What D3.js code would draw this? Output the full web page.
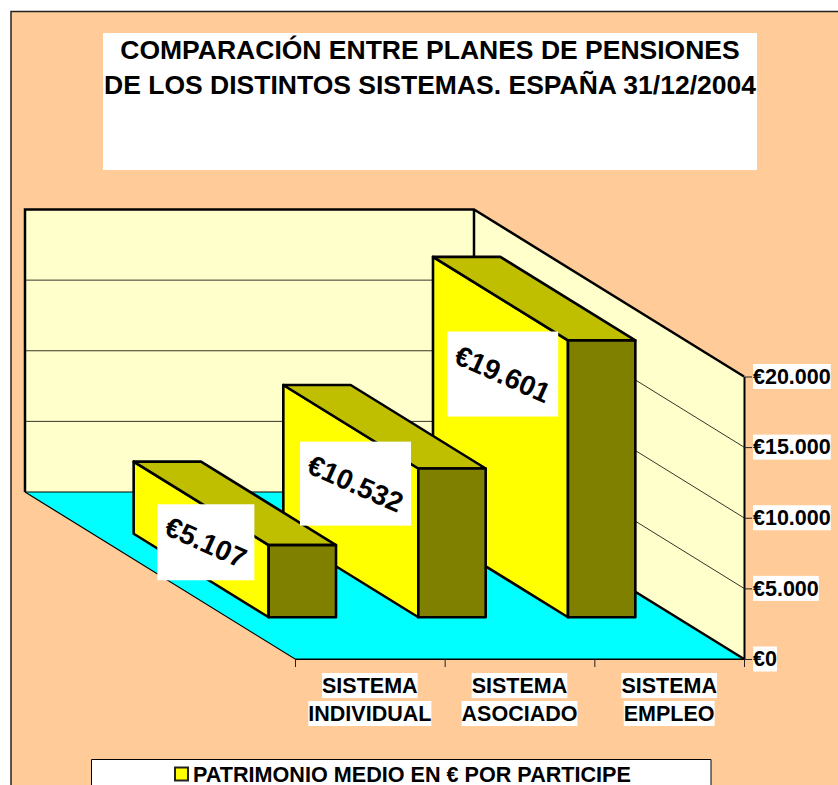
<!DOCTYPE html>
<html lang="es">
<head>
  <meta charset="UTF-8">
  <title>Comparación entre planes de pensiones</title>
  <script src="https://d3js.org/d3.v7.min.js"></script>
  <style>
    html, body { margin: 0; padding: 0; background: #fff; overflow: hidden; }
    svg { display: block; }
    text { font-family: "Liberation Sans", Arial, sans-serif; font-weight: bold; fill: #000; }
  </style>
</head>
<body>
  <svg id="chart" width="838" height="785"></svg>
  <script>
    // data
    const categories = [["SISTEMA", "INDIVIDUAL"], ["SISTEMA", "ASOCIADO"], ["SISTEMA", "EMPLEO"]];
    const values = [5107, 10532, 19601];
    const yTicks = [0, 5000, 10000, 15000, 20000];
    const titleLines = ["COMPARACIÓN ENTRE PLANES DE PENSIONES", "DE LOS DISTINTOS SISTEMAS. ESPAÑA 31/12/2004"];
    const legendLabel = "PATRIMONIO MEDIO EN € POR PARTICIPE";

    const svg = d3.select("#chart");
    const es = d3.formatLocale({ decimal: ",", thousands: ".", grouping: [3], currency: ["€", ""] });
    const fmt = es.format("$,");

    // the 3d look is just an oblique shift of the front plane
    const x = d3.scaleBand().domain(d3.range(3)).range([295, 744]).paddingInner(0.55).paddingOuter(0.275);
    const xEdge = d3.scaleLinear().domain([0, 3]).range([295, 744]);
    const y = d3.scaleLinear().domain([0, 20000]).range([659, 376.5]);
    const dx = d3.scaleLinear().domain([0, 1]).range([0, -270]);
    const dy = d3.scaleLinear().domain([0, 1]).range([0, -167]);
    const barFront = 0.25, barBack = 0.75;

    const pt = (px, v, d) => [px + dx(d), y(v) + dy(d)];
    const poly = d3.line();
    const face = (pts, fill, sw) => svg.append("path")
      .attr("d", poly(pts) + "Z")
      .attr("fill", fill)
      .attr("stroke", sw ? "#000" : "none")
      .attr("stroke-width", sw)
      .attr("stroke-linejoin", "round");
    const edge = (pts, sw) => svg.append("path")
      .attr("d", poly(pts))
      .attr("fill", "none")
      .attr("stroke", "#000")
      .attr("stroke-width", sw);

    svg.append("rect").attr("width", 838).attr("height", 785).attr("fill", "#fff");
    svg.append("rect")
      .attr("x", 11).attr("y", 11).attr("width", 827).attr("height", 774)
      .attr("fill", "#FFCC99");
    svg.append("path").attr("d", "M11,785V11.5H838").attr("fill", "none").attr("stroke", "#222").attr("stroke-width", 1.5);

    // title
    svg.append("rect").attr("x", 103).attr("y", 33).attr("width", 654).attr("height", 137).attr("fill", "#fff");
    titleLines.forEach((t, i) => {
      svg.append("text").attr("x", 430).attr("y", 58.5 + i * 35)
        .attr("text-anchor", "middle").attr("font-size", 26.5).text(t);
    });

    // floor and walls
    const x0 = xEdge(0), x3 = xEdge(3), yMax = yTicks[yTicks.length - 1];
    face([pt(x0, 0, 0), pt(x3, 0, 0), pt(x3, 0, 1), pt(x0, 0, 1)], "#00FFFF", 0);
    face([pt(x0, 0, 1), pt(x3, 0, 1), pt(x3, yMax, 1), pt(x0, yMax, 1)], "#FFFFCC", 0);
    face([pt(x3, 0, 1), pt(x3, 0, 0), pt(x3, yMax, 0), pt(x3, yMax, 1)], "#FFFFCC", 0);

    // gridlines
    yTicks.slice(1, -1).forEach(t => edge([pt(x0, t, 1), pt(x3, t, 1), pt(x3, t, 0)], 0.8));

    // outlines: thin on the floor, heavier round the walls
    edge([pt(x0, 0, 1), pt(x3, 0, 1)], 1);
    edge([pt(x0, 0, 1), pt(x0, 0, 0), pt(x3, 0, 0)], 1.2);
    edge([pt(x0, 0, 1), pt(x0, yMax, 1), pt(x3, yMax, 1), pt(x3, yMax, 0)], 2.5);
    edge([pt(x3, yMax, 1), pt(x3, 0, 1), pt(x3, 0, 0)], 2.5);

    // bars, back to front means right to left here
    d3.range(2, -1, -1).forEach(i => {
      const a = x(i), b = x(i) + x.bandwidth(), v = values[i];
      face([pt(a, 0, barFront), pt(a, v, barFront), pt(a, v, barBack), pt(a, 0, barBack)], "#FFFF00", 2.6);
      face([pt(a, v, barFront), pt(b, v, barFront), pt(b, v, barBack), pt(a, v, barBack)], "#BFBF00", 2.6);
      face([pt(a, 0, barFront), pt(b, 0, barFront), pt(b, v, barFront), pt(a, v, barFront)], "#808000", 2.6);
    });

    // value axis
    const yAxis = svg.append("g")
      .attr("transform", `translate(${x3},0)`)
      .call(d3.axisRight(y).tickValues(yTicks).tickSize(8).tickSizeOuter(0).tickFormat(fmt));
    yAxis.select(".domain").attr("stroke", "#000").attr("stroke-width", 2);
    yAxis.selectAll(".tick line").attr("stroke", "#222").attr("stroke-width", 1);
    yAxis.selectAll(".tick text").attr("font-size", 21.5).attr("font-family", null).attr("dy", "0.31em").attr("x", 9);
    yAxis.selectAll(".tick").each(function () {
      const g = d3.select(this), box = g.select("text").node().getBBox();
      g.insert("rect", "text")
        .attr("x", box.x).attr("y", -13).attr("width", box.width).attr("height", 25)
        .attr("fill", "#fff");
    });

    // category axis, ticks on the band edges
    const xAxis = svg.append("g")
      .attr("transform", `translate(0,${y(0)})`)
      .call(d3.axisBottom(xEdge).ticks(3).tickSize(8).tickSizeOuter(0).tickFormat(""));
    xAxis.select(".domain").attr("stroke", "#000");
    xAxis.selectAll(".tick line").attr("stroke", "#222");

    categories.forEach((lines, i) => {
      const cx = x(i) + x.bandwidth() / 2;
      lines.forEach((t, j) => {
        const label = svg.append("text").attr("x", cx).attr("y", 692.5 + j * 28)
          .attr("text-anchor", "middle").attr("font-size", 21.5).text(t);
        const box = label.node().getBBox();
        svg.insert("rect", () => label.node())
          .attr("x", box.x).attr("y", 673 + j * 28).attr("width", box.width).attr("height", 25)
          .attr("fill", "#fff");
      });
    });

    // data labels: straight white box, tilted text
    const labelBoxW = [97, 111, 111], labelBoxH = [76, 84, 85];
    const labelNudge = [[4.7, 38.9], [4.7, 56.9], [2.2, 75.4]];
    values.forEach((v, i) => {
      const mid = (barFront + barBack) / 2;
      const p = pt(x(i), v, mid);
      const cx = p[0] + labelNudge[i][0], cy = p[1] + labelNudge[i][1];
      svg.append("rect")
        .attr("x", cx - labelBoxW[i] / 2).attr("y", cy - labelBoxH[i] / 2)
        .attr("width", labelBoxW[i]).attr("height", labelBoxH[i])
        .attr("fill", "#fff");
      svg.append("text")
        .attr("transform", `translate(${cx},${cy}) rotate(24)`)
        .attr("text-anchor", "middle").attr("dy", "0.35em")
        .attr("font-size", 28).text(fmt(v));
    });

    // legend
    svg.append("rect").attr("x", 91).attr("y", 759).attr("width", 620).attr("height", 26)
      .attr("fill", "#fff");
    svg.append("path").attr("d", "M91.5,785V759.5H711V785").attr("fill", "none").attr("stroke", "#000").attr("stroke-width", 1);
    svg.append("rect").attr("x", 175).attr("y", 767.5).attr("width", 13).attr("height", 13)
      .attr("fill", "#FFFF00").attr("stroke", "#222").attr("stroke-width", 2);
    svg.append("text").attr("x", 193).attr("y", 781.5).attr("font-size", 21.6).text(legendLabel);
  </script>
</body>
</html>
